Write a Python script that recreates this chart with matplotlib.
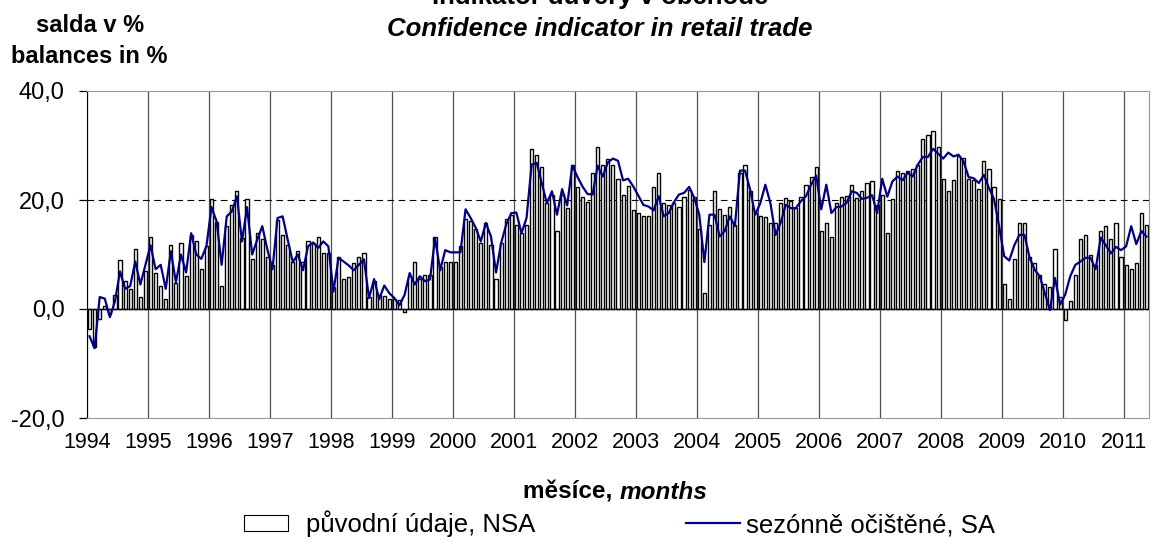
import numpy as np
import matplotlib.pyplot as plt
from matplotlib.patches import Patch
from matplotlib.lines import Line2D

plt.rcParams['font.family'] = ['Liberation Sans', 'DejaVu Sans']

# monthly data, Jan 1994 .. May 2011
years = list(range(1994, 2012))

# original data (NSA), balances in %
nsa = [
    -3.7, -7.0, -1.8, 0.5, -1.0, 2.6, 8.9, 5.1, 3.7, 11.0, 2.2, 7.0,        # 1994
    13.2, 6.6, 4.3, 1.8, 11.8, 4.8, 12.1, 6.0, 13.6, 12.4, 7.3, 11.5,       # 1995
    20.2, 15.9, 4.3, 15.2, 19.1, 21.7, 13.0, 20.2, 9.2, 13.9, 12.8, 9.5,    # 1996
    8.0, 16.4, 13.6, 11.8, 8.6, 10.7, 8.6, 12.4, 12.1, 13.2, 10.3, 10.3,    # 1997
    4.0, 9.5, 5.5, 5.9, 8.4, 9.5, 10.3, 2.2, 5.1, 2.6, 2.4, 1.8,            # 1998
    1.8, 1.7, -0.6, 6.0, 8.6, 5.5, 6.3, 6.3, 13.3, 7.7, 8.7, 8.7,           # 1999
    8.7, 11.5, 16.5, 16.1, 14.6, 12.1, 15.8, 11.8, 5.5, 12.1, 16.5, 17.3,   # 2000
    15.5, 13.9, 15.5, 29.4, 28.3, 26.1, 19.4, 21.0, 14.4, 21.0, 18.5, 26.5, # 2001
    22.4, 20.6, 19.6, 25.0, 29.7, 26.5, 27.5, 26.5, 23.9, 21.0, 22.5, 18.2, # 2002
    17.7, 17.0, 17.0, 22.4, 25.0, 19.4, 19.0, 19.4, 18.8, 20.6, 21.9, 20.6, # 2003
    14.7, 2.9, 15.5, 21.7, 18.3, 17.3, 18.8, 15.5, 25.0, 26.5, 21.6, 17.6,  # 2004
    17.0, 16.9, 15.8, 15.8, 19.4, 20.4, 19.8, 18.5, 20.6, 22.8, 24.2, 26.1, # 2005
    14.3, 15.8, 13.2, 19.4, 20.6, 20.7, 22.8, 20.4, 21.7, 23.1, 23.5, 19.0, # 2006
    21.0, 13.9, 20.2, 25.4, 25.0, 25.4, 25.6, 26.5, 31.2, 32.0, 32.7, 29.8, # 2007
    23.9, 21.7, 23.6, 28.0, 27.7, 23.9, 23.7, 22.1, 27.2, 25.7, 22.4, 20.1, # 2008
    4.5, 1.8, 9.2, 15.8, 15.8, 9.5, 8.4, 6.3, 4.5, 4.0, 11.0, 2.2,          # 2009
    -2.1, 1.5, 6.3, 12.8, 13.6, 10.0, 8.0, 14.4, 15.2, 12.8, 15.8, 9.5,     # 2010
    8.1, 7.3, 8.4, 17.6, 15.4,                                              # 2011
]

# seasonally adjusted (SA)
sa = [
    -5.0, -7.2, 2.2, 1.9, -1.5, 1.4, 6.9, 3.7, 4.2, 8.7, 4.5, 8.1,
    11.7, 7.3, 8.1, 3.7, 10.6, 4.9, 10.0, 6.7, 13.9, 10.0, 9.2, 11.5,
    18.7, 16.1, 8.1, 17.0, 17.9, 20.7, 12.4, 18.7, 10.0, 12.7, 15.2, 10.9,
    7.3, 16.7, 17.0, 12.7, 8.6, 10.0, 7.1, 11.5, 12.2, 11.2, 12.4, 11.5,
    3.2, 9.4, 8.7, 8.0, 7.1, 8.1, 9.1, 2.0, 5.5, 1.8, 4.3, 2.9,
    2.0, 0.7, 2.6, 6.6, 4.5, 6.0, 5.1, 5.4, 13.0, 7.1, 10.8, 10.4,
    10.4, 10.4, 18.3, 16.7, 14.9, 12.4, 15.8, 13.3, 6.7, 12.1, 15.5, 17.6,
    17.7, 13.9, 16.7, 26.5, 26.8, 23.1, 19.4, 21.6, 17.3, 22.0, 19.0, 26.3,
    24.3, 22.5, 21.1, 21.0, 26.3, 24.3, 26.9, 27.6, 27.2, 23.6, 23.9, 22.5,
    20.8, 19.1, 18.8, 18.1, 20.7, 17.0, 17.6, 19.6, 21.0, 21.3, 22.4, 20.4,
    17.3, 8.6, 17.3, 17.3, 13.3, 14.3, 17.0, 15.2, 25.4, 25.4, 21.9, 17.3,
    19.4, 22.8, 19.4, 13.6, 15.8, 19.1, 18.5, 18.5, 19.8, 20.7, 22.8, 24.5,
    18.3, 22.8, 17.6, 18.7, 18.8, 19.5, 21.6, 21.3, 20.2, 20.4, 20.9, 17.6,
    23.9, 20.6, 23.4, 24.3, 23.6, 25.0, 24.3, 26.5, 27.9, 27.9, 29.4, 28.5,
    27.6, 28.7, 28.0, 28.3, 27.1, 24.2, 24.0, 23.1, 24.6, 22.2, 20.2, 15.2,
    9.7, 8.9, 11.7, 13.6, 13.6, 9.4, 7.2, 6.0, 2.9, -0.2, 5.7, 0.8,
    2.6, 6.0, 8.1, 8.7, 9.4, 9.4, 7.3, 13.1, 11.7, 10.2, 11.4, 10.8,
    11.5, 15.2, 11.9, 14.3, 13.3,
]

yticks = [-20, 0, 20, 40]

W, H = 1153, 543
fig = plt.figure(figsize=(W / 100, H / 100), dpi=100)
ax = fig.add_axes([87 / W, 1 - 418 / H, (1149 - 87) / W, (418 - 91) / H])

x = np.arange(len(nsa)) + 0.5
ax.bar(x, nsa, width=0.62, color='white', edgecolor='black', linewidth=1.0, zorder=2)
ax.plot(x[:len(sa)], sa, color='#000080', lw=1.6, zorder=4)

ax.axhline(0, color='black', lw=1.0, zorder=3)
ax.axhline(20, color='black', lw=0.8, ls=(0, (6, 4)), zorder=1)

ax.set_xlim(0, len(nsa))
ax.set_ylim(-20, 40)
ax.set_xticks(np.arange(0, len(nsa), 12))
ax.set_xticklabels([str(y) for y in years])
ax.set_yticks(yticks)
ax.set_yticklabels([f"{v:.1f}".replace('.', ',') for v in yticks])
ax.grid(axis='x', color='#505050', lw=0.9)
ax.set_axisbelow(True)

ax.tick_params(axis='x', length=0, pad=10, labelsize=15.5)
ax.tick_params(axis='y', direction='out', length=6, width=0.9, pad=10, labelsize=17)
for side in ['top', 'right', 'bottom']:
    ax.spines[side].set_color('#999999')
ax.spines['left'].set_color('black')

fig.text(600 / W, 1 - 4 / H, 'Indikátor důvěry v obchodě', ha='center', va='baseline',
         fontsize=18.5, fontweight='bold')
fig.text(600 / W, 1 - 36 / H, 'Confidence indicator in retail trade', ha='center', va='baseline',
         fontsize=18.5, fontweight='bold', fontstyle='italic')
fig.text(90 / W, 1 - 32 / H, 'salda v %', ha='center', va='baseline', fontsize=17, fontweight='bold')
fig.text(89 / W, 1 - 63 / H, 'balances in %', ha='center', va='baseline', fontsize=17, fontweight='bold')

# x label with mixed styles
fig.canvas.draw()
r = fig.canvas.get_renderer()
t1 = fig.text(0, 1 - 499 / H, 'měsíce, ', va='baseline', fontsize=17.5, fontweight='bold')
t2 = fig.text(0, 1 - 499 / H, 'months', va='baseline', fontsize=17.5, fontweight='bold', fontstyle='italic')
w1 = t1.get_window_extent(r).width
w2 = t2.get_window_extent(r).width
x0 = 615 - (w1 + w2) / 2
t1.set_x(x0 / W)
t2.set_x((x0 + w1) / W)

# legend entries placed separately
fig.legend([Patch(facecolor='white', edgecolor='black', lw=0.8)], ['původní údaje, NSA'],
           loc='lower left', bbox_to_anchor=(244 / W, 1 - 537 / H), frameon=False,
           fontsize=18.5, handlelength=1.7, handleheight=0.55, handletextpad=0.7,
           borderpad=0, borderaxespad=0)
fig.legend([Line2D([], [], color='#000080', lw=1.6)], ['sezónně očištěné, SA'],
           loc='lower left', bbox_to_anchor=(686 / W, 1 - 537 / H), frameon=False,
           fontsize=18.5, handlelength=2.1, handletextpad=0.25,
           borderpad=0, borderaxespad=0)

fig.savefig('out.png', dpi=100)
